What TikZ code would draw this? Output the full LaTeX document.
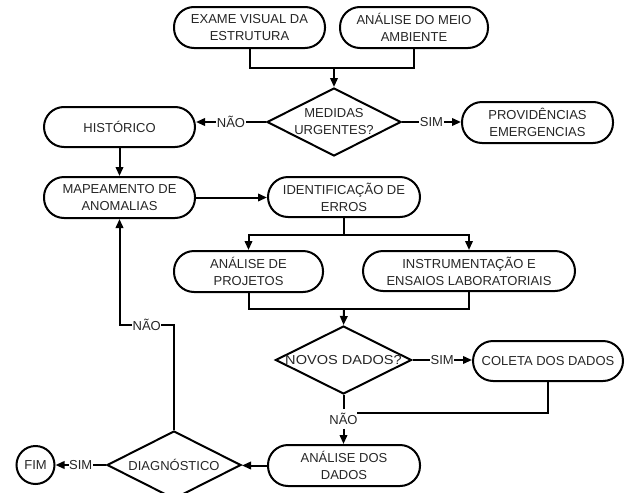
\documentclass[tikz,border=0pt]{standalone}
\usepackage{fontspec}
\usepackage{graphicx}
\setmainfont{Liberation Sans}
\usetikzlibrary{shapes.geometric,arrows.meta}
\definecolor{txtgray}{HTML}{262626}
\begin{document}
\begin{tikzpicture}[x=1pt,y=-1pt,
  box/.style={draw, line width=2pt, rounded corners=20pt, minimum height=41pt, inner sep=0pt, align=center, font=\fontsize{13}{17}\selectfont, text=txtgray},
  dia/.style={draw, diamond, line width=2pt, minimum width=134pt, minimum height=68pt, inner sep=0pt},
  txt/.style={align=center, font=\fontsize{13}{17}\selectfont, text=txtgray, inner sep=0pt},
  lbl/.style={fill=white, font=\fontsize{13}{15}\selectfont, text=txtgray, inner xsep=0.5pt, inner ysep=1.5pt},
  con/.style={line width=2pt},
  arr/.style={con, -{Triangle[length=9pt,width=7.5pt]}}]
\useasboundingbox (0,0) rectangle (627,493);

\node[box, minimum width=151pt] (exame) at (249.5,27.5) {EXAME VISUAL DA\\ESTRUTURA};
\node[box, minimum width=148pt] (meio) at (414,27.5) {ANÁLISE DO MEIO\\AMBIENTE};
\node[dia] (medidas) at (334,122) {};
\node[txt] (medidasT) at (medidas) {MEDIDAS\\URGENTES?};
\node[box, minimum width=151pt, minimum height=40pt] (hist) at (119.5,127) {HISTÓRICO};
\node[box, minimum width=151pt] (prov) at (537.5,122.5) {PROVIDÊNCIAS\\EMERGENCIAS};
\node[box, minimum width=151pt] (mapa) at (119.5,197.5) {MAPEAMENTO DE\\ANOMALIAS};
\node[box, minimum width=152pt, minimum height=40pt] (ident) at (344,197) {IDENTIFICAÇÃO DE\\ERROS};
\node[box, minimum width=149pt] (proj) at (248.5,271.5) {ANÁLISE DE\\PROJETOS};
\node[box, minimum width=212pt, minimum height=40pt] (instr) at (469,271) {INSTRUMENTAÇÃO E\\ENSAIOS LABORATORIAIS};
\node[dia, minimum width=136pt] (novos) at (343.5,360) {};
\node[txt] (novosT) at (novos) {\scalebox{1.12}[1]{NOVOS DADOS?}};
\node[box, minimum width=150pt, minimum height=40pt] (coleta) at (548,361) {COLETA DOS DADOS};
\node[box, minimum width=152pt] (analise) at (344,465.5) {ANÁLISE DOS\\DADOS};
\node[dia] (diag) at (174,465) {};
\node[txt] (diagT) at (diag) {DIAGNÓSTICO};
\node[draw, circle, line width=2pt, minimum size=38pt, inner sep=0pt, font=\fontsize{13}{15}\selectfont, text=txtgray] (fim) at (35.5,465) {FIM};

\coordinate (j1) at (334,68);
\draw[con] (exame.south) |- (j1) -| (meio.south);
\draw[arr] (j1) -- (medidas.north);
\draw[arr] (medidas.west) -- node[lbl] (l1) {NÃO} (medidas.west -| hist.east);
\draw[arr] (medidas.east) -- node[lbl] (l2) {SIM} (medidas.east -| prov.west);
\draw[arr] (hist.south) -- (mapa.north);
\draw[arr] (mapa.east) -- (mapa.east -| ident.west);

\coordinate (j2) at (344,235);
\draw[con] (ident.south) -- (j2);
\draw[arr] (j2) -| (proj.north);
\draw[arr] (j2) -| (instr.north);

\coordinate (j3) at (344,309);
\draw[con] (proj.south) |- (j3) -| (instr.south);
\draw[arr] (j3) -- (novos.north);
\draw[arr] (novos.east) -- node[lbl] (l3) {SIM} (novos.east -| coleta.west);

\node[lbl, inner ysep=4pt] (l4) at (343.5,419) {NÃO};
\coordinate (j4) at (357,413);
\draw[con] (coleta.south) |- (j4);
\draw[con] (novos.south) -- (l4);
\draw[arr] (l4) -- (analise.north -| l4);

\draw[arr] (analise.west) -- (analise.west -| diag.east);
\draw[arr] (diag.west) -- node[lbl] (l5) {SIM} (diag.west -| fim.east);

\coordinate (j5) at (174,325);
\coordinate (j6) at (119.5,325);
\draw[arr] (diag.north) -- (j5) -- node[lbl] (l6) {NÃO} (j6) -- (mapa.south);
\end{tikzpicture}
\end{document}
